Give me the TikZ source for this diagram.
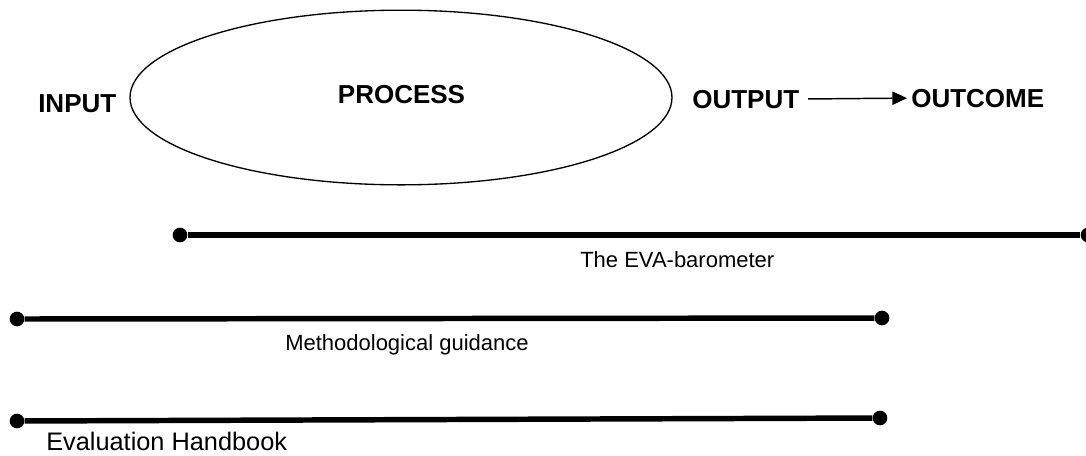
\documentclass[tikz,border=0pt]{standalone}
\usepackage{fontspec}
\setmainfont{Liberation Sans}
\usetikzlibrary{shapes.geometric,arrows.meta}
\tikzset{
  stage/.style={inner sep=0pt, font=\bfseries\fontsize{19.5}{22}\selectfont},
  caption/.style={inner sep=0pt, anchor=base west, font=\fontsize{16.5}{19}\selectfont},
  dot/.style={circle, fill=black, inner sep=0pt, minimum size=11pt},
  scale line/.style={line width=4.1pt},
  flow/.style={line width=1.1pt, -{Triangle[length=11pt, width=10pt]}},
}
\begin{document}
\begin{tikzpicture}[x=0.75pt, y=-0.75pt]
\useasboundingbox (0,0) rectangle (1086,455);

% process ellipse and stage labels
\node[ellipse, draw, line width=1pt, inner sep=0pt,
      minimum width=406.5pt, minimum height=131pt] (proc) at (401,97.5) {};
\node[stage, anchor=base] (ptext) at (401.5,103) {PROCESS};
\node[stage, anchor=base west] (in) at (38,112) {INPUT};
\node[stage, anchor=base west] (out) at (692,108) {OUTPUT};
\node[stage, anchor=base west] (outc) at (911,107) {OUTCOME};
\draw[flow, shorten <=6.5pt, shorten >=3pt] (out.east) -- (outc.west);

% EVA-barometer span
\node[dot] (e1) at (180,235) {};
\node[dot] (e2) at (1088,235) {};
\draw[scale line] (e1) -- (e2);
\node[caption] (etext) at (580,267) {The EVA-barometer};

% methodological guidance span
\node[dot] (m1) at (17,319) {};
\node[dot] (m2) at (882,318) {};
\draw[scale line] (m1) -- (m2);
\node[caption] (mtext) at (285,350) {Methodological guidance};

% evaluation handbook span
\node[dot] (h1) at (17,421) {};
\node[dot] (h2) at (880,418) {};
\draw[scale line] (h1) -- (h2);
\node[caption, font=\fontsize{19}{21}\selectfont] (htext) at (46,450) {Evaluation Handbook};
\end{tikzpicture}
\end{document}
